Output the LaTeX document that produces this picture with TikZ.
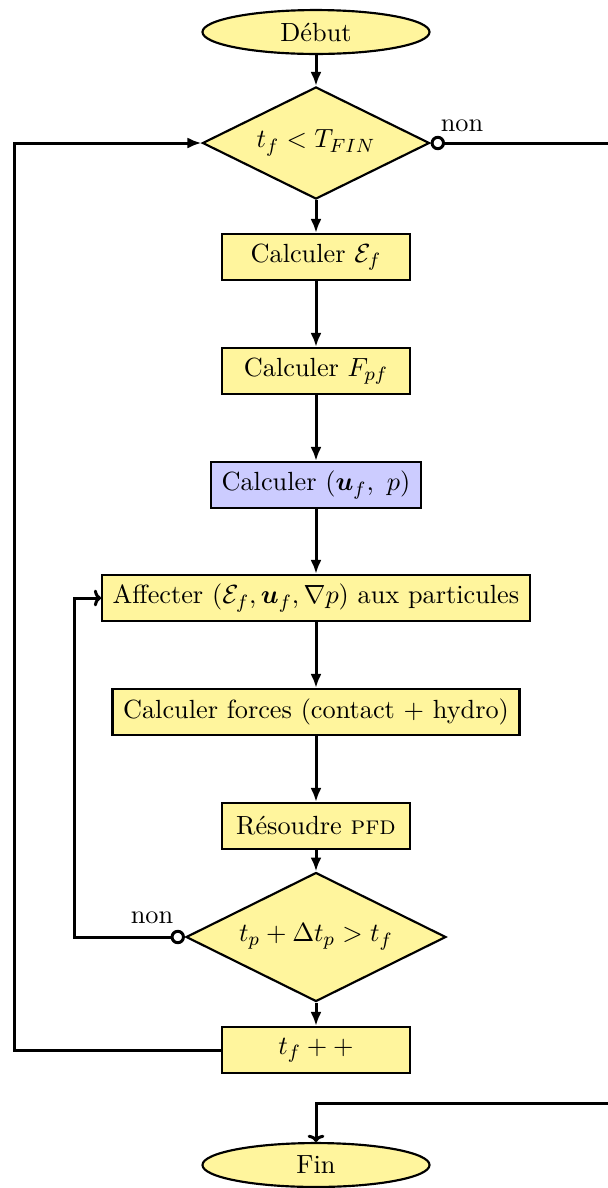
\documentclass[tikz,11pt,border=0pt]{standalone}
\usepackage{amsmath}
\usetikzlibrary{shapes.geometric,arrows.meta}
\definecolor{boxyellow}{RGB}{255,245,157}
\definecolor{boxblue}{RGB}{204,204,255}
\tikzset{
  px/.style={x=0.41667pt,y=-0.41667pt},
  procbox/.style={draw,line width=0.9pt,fill=boxyellow,rectangle,inner xsep=4.4pt,inner ysep=0pt,minimum width=78.3pt,minimum height=19.2pt},
  termnode/.style={draw,line width=0.9pt,fill=boxyellow,ellipse,inner sep=0pt,minimum width=94.6pt,minimum height=18.3pt},
  testnode/.style={draw,line width=0.9pt,fill=boxyellow,diamond,aspect=2,inner sep=0pt},
  flow/.style={line width=1.25pt,-{Latex[length=5.8pt,width=4.6pt]}},
  backflow/.style={line width=1.25pt,{Circle[open,fill=white,length=6pt,width=6pt]}-{To[length=3pt,width=7pt]}},
  nolabel/.style={inner sep=0pt}
}
\begin{document}
\begin{tikzpicture}[px]
\useasboundingbox (0,0) rectangle (608,1188);
\node[termnode] (debut) at (316,32) {Début};
\node[testnode,minimum width=94.6pt,minimum height=46.7pt] (d1) at (316,143) {$t_f < T_{FIN}$};
\node[procbox] (ef) at (316,257) {Calculer $\mathcal{E}_f$};
\node[procbox] (fpf) at (316,371) {Calculer $F_{pf}$};
\node[procbox,fill=boxblue] (uf) at (316,485) {Calculer $(\boldsymbol{u}_f,\ p)$};
\node[procbox] (aff) at (316,598) {Affecter $(\mathcal{E}_f,\boldsymbol{u}_f,\nabla p)$ aux particules};
\node[procbox] (forces) at (316,712) {Calculer forces (contact + hydro)};
\node[procbox] (pfd) at (316,826) {Résoudre \textsc{pfd}};
\node[testnode,minimum width=108.3pt,minimum height=53.75pt] (d2) at (316,937) {$t_p + \Delta t_p > t_f$};
\node[procbox] (tpp) at (316,1050) {$t_f++$};
\node[termnode] (fin) at (316,1165) {Fin};
\node[nolabel] (non1) at (462,126) {non};
\node[nolabel] (non2) at (152,918) {non};
\coordinate (c1) at (14,1050);
\coordinate (c2) at (14,143);
\coordinate (c3) at (74,937);
\coordinate (c4) at (74,598);
\coordinate (c5) at (640,143);
\coordinate (c6) at (640,1103);
\coordinate (c7) at (316,1103);

\draw[flow] (debut) -- (d1);
\draw[flow] (d1) -- (ef);
\draw[flow] (ef) -- (fpf);
\draw[flow] (fpf) -- (uf);
\draw[flow] (uf) -- (aff);
\draw[flow] (aff) -- (forces);
\draw[flow] (forces) -- (pfd);
\draw[flow] (pfd) -- (d2);
\draw[flow] (d2) -- (tpp);
\draw[flow] (tpp.west) -- (c1) -- (c2) -- (d1.west);
\draw[backflow] (d2.west) -- (c3) -- (c4) -- (aff.west);
\draw[backflow] (d1.east) -- (c5) -- (c6) -- (c7) -- (fin.north);
\end{tikzpicture}
\end{document}
